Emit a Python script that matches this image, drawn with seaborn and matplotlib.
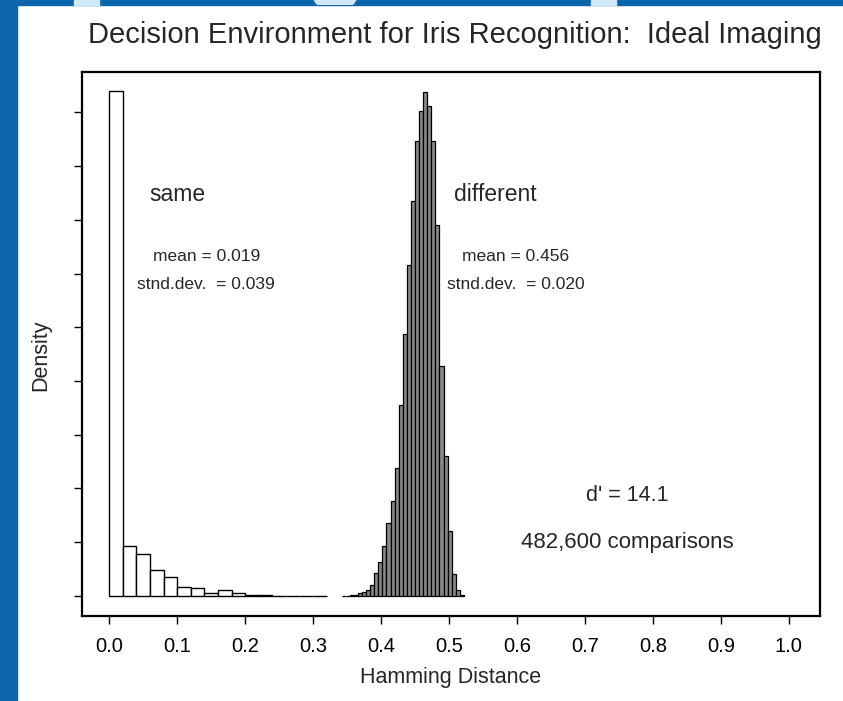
import pandas as pd
import matplotlib
matplotlib.use("Agg")
import matplotlib.pyplot as plt
import seaborn as sns
from matplotlib.patches import Rectangle, Ellipse

# "same" (authentic) comparisons: bin width 0.02, density heights
same_edges = [round(0.02 * i, 3) for i in range(17)]
same_density = [37.6, 3.7, 3.1, 1.9, 1.4, 0.7, 0.6, 0.25,
                0.43, 0.25, 0.1, 0.1, 0.0, 0.0, 0.0, 0.0]

# "different" (impostor) comparisons: bin width 0.006
diff_edges = [round(0.342 + 0.006 * i, 4) for i in range(31)]
diff_density = [0.0, 0.0, 0.04, 0.11, 0.19, 0.3, 0.45, 0.82, 1.7, 2.5,
                3.7, 5.4, 7.1, 9.5, 14.2, 19.5, 24.6, 29.4, 33.9, 36.1,
                37.5, 36.5, 33.9, 27.6, 17.1, 10.4, 4.8, 1.6, 0.45, 0.07]

x_ticks = [round(0.1 * i, 1) for i in range(11)]
x_tick_labels = [f"{t:.1f}" for t in x_ticks]
y_ticks = list(range(0, 37, 4))

sns.set_style("white")
plt.rcParams['font.family'] = ['Liberation Sans', 'DejaVu Sans']

fig = plt.figure(figsize=(8.43, 7.01), dpi=100)
fig.patch.set_facecolor('white')

# slide background pieces (blue frame at left/top)
blue = '#0b66ad'
light = '#cfe9fb'
W, H = 843, 701
fig.patches.append(Rectangle((0, 0), 17 / W, 1, transform=fig.transFigure, color=blue, zorder=0))
band = Rectangle((0, 1 - 5 / H), 1, 5 / H, transform=fig.transFigure, color=blue, zorder=0)
fig.patches.append(band)
fig.patches.append(Rectangle((74 / W, 1 - 5 / H), 25 / W, 5 / H, transform=fig.transFigure, color=light, zorder=1))
fig.patches.append(Rectangle((591 / W, 1 - 5 / H), 25 / W, 5 / H, transform=fig.transFigure, color=light, zorder=1))
blob = Ellipse((335 / W, 1 + 12 / H), 48 / W, 48 / H, transform=fig.transFigure, color=light, zorder=1)
blob.set_clip_path(band)
fig.patches.append(blob)

ax = fig.add_axes([82 / W, 1 - 616 / H, 738 / W, 544 / H])

same_df = pd.DataFrame({
    "hd": [(a + b) / 2 for a, b in zip(same_edges[:-1], same_edges[1:])],
    "density": same_density,
})
diff_df = pd.DataFrame({
    "hd": [(a + b) / 2 for a, b in zip(diff_edges[:-1], diff_edges[1:])],
    "density": diff_density,
})

sns.histplot(data=same_df, x="hd", weights="density", bins=same_edges, stat='count',
             color='white', edgecolor='black', linewidth=1.0, alpha=1, ax=ax)
sns.histplot(data=diff_df, x="hd", weights="density", bins=diff_edges, stat='count',
             color='#888888', edgecolor='black', linewidth=0.9, alpha=1, ax=ax)

ax.set_xlim(-0.04, 1.046)
ax.set_ylim(-1.49, 39.0)
ax.set_xticks(x_ticks)
ax.set_xticklabels(x_tick_labels, fontsize=14.5)
ax.set_yticks(y_ticks)
ax.set_yticklabels([])
ax.tick_params(axis='both', direction='out', length=6, width=1, colors='black',
               bottom=True, left=True, pad=9)
for s in ax.spines.values():
    s.set_visible(True)
    s.set_color('black')
    s.set_linewidth(1.6)

ax.set_xlabel("Hamming Distance", fontsize=15.5, labelpad=8)
ax.set_ylabel("Density", fontsize=15.5)
ax.yaxis.set_label_coords(-0.042, 0.48)

fig.text(455 / W, 1 - 35 / H, "Decision Environment for Iris Recognition:  Ideal Imaging",
         ha='center', va='center', fontsize=21)

ax.text(0.100, 29.9, "same", ha='center', va='center', fontsize=16.5)
ax.text(0.143, 25.3, "mean = 0.019", ha='center', va='center', fontsize=12.5)
ax.text(0.143, 23.2, "stnd.dev.  = 0.039", ha='center', va='center', fontsize=12.5)
ax.text(0.568, 29.9, "different", ha='center', va='center', fontsize=16.5)
ax.text(0.598, 25.3, "mean = 0.456", ha='center', va='center', fontsize=12.5)
ax.text(0.598, 23.2, "stnd.dev.  = 0.020", ha='center', va='center', fontsize=12.5)
ax.text(0.762, 7.5, "d' = 14.1", ha='center', va='center', fontsize=15.5)
ax.text(0.762, 4.0, "482,600 comparisons", ha='center', va='center', fontsize=16)

fig.savefig("out.png", dpi=100)
